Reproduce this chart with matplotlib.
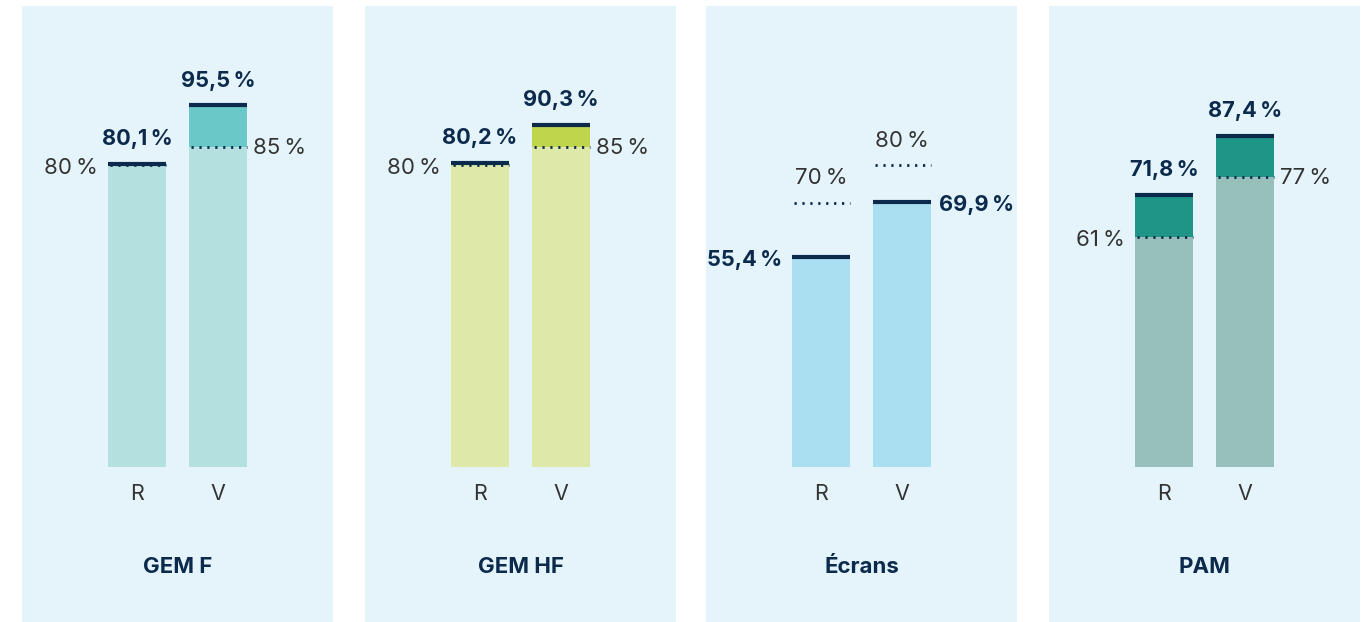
import matplotlib
matplotlib.use("Agg")
import matplotlib.pyplot as plt

# ---- data ----
categories = ["GEM F", "GEM HF", "Écrans", "PAM"]
bar_labels = ["R", "V"]
actual_R = [80.1, 80.2, 55.4, 71.8]
actual_V = [95.5, 90.3, 69.9, 87.4]
target_R = [80, 80, 70, 61]
target_V = [85, 85, 80, 77]

light_colors = ["#b5e0e0", "#dee9a9", "#aadff1", "#97c0bc"]
dark_colors = ["#6bc8c8", "#bfd54b", "#aadff1", "#1e9586"]

NAVY = "#0b2a4c"
GREY = "#333333"
PANEL_BG = "#e5f4fa"
FONT = ["Inter", "DejaVu Sans"]
SP = "\u2009"

W, H = 1367, 622
fig = plt.figure(figsize=(W / 100, H / 100), dpi=100, facecolor="white")

panel_lefts = [22, 365, 706, 1049]
panel_w = 311
panel_top = 6
scale = 3.77            # px per percent
base_px = 467           # baseline pixel row

ax_h_px = H - panel_top
ylo = -(H - base_px) / scale
yhi = (base_px - panel_top) / scale

bar_w = 58 / 81
xlo = -115 / 81
xhi = (panel_w - 115) / 81

BOLD_FS = 15.7
REG_FS = 16


def fmt_actual(v):
    return f"{v:.1f}".replace(".", ",") + SP + "%"


def fmt_target(v):
    return f"{v:g}" + SP + "%"


for i, cat in enumerate(categories):
    ax = fig.add_axes([panel_lefts[i] / W, 0, panel_w / W, ax_h_px / H])
    ax.set_facecolor(PANEL_BG)
    for s in ax.spines.values():
        s.set_visible(False)
    ax.set_xticks([])
    ax.set_yticks([])
    ax.set_xlim(xlo, xhi)
    ax.set_ylim(ylo, yhi)

    actuals = [actual_R[i], actual_V[i]]
    targets = [target_R[i], target_V[i]]
    for j in range(2):
        a, t = actuals[j], targets[j]
        x = j
        ax.bar(x, min(a, t), width=bar_w, color=light_colors[i], zorder=2)
        if a > t:
            ax.bar(x, a - t, bottom=t, width=bar_w, color=dark_colors[i], zorder=2)
        # target dotted line
        ax.hlines(t, x - bar_w / 2 + 0.03, x + bar_w / 2, colors=NAVY, linewidth=2.0,
                  linestyles=(0, (0.8, 2.05)), zorder=3)
        # actual navy line
        ax.hlines(a + 0.4, x - bar_w / 2, x + bar_w / 2, colors=NAVY, linewidth=3,
                  zorder=4)

        if a >= t:
            ax.text(x, a + 5.4, fmt_actual(a), ha="center", va="baseline",
                    fontsize=BOLD_FS, fontweight="bold", color=NAVY, family=FONT)
            if j == 0:
                ax.text(x - bar_w / 2 - 10 / 81, t - 0.8, fmt_target(t), ha="right",
                        va="center", fontsize=REG_FS, color=GREY, family=FONT)
            else:
                ax.text(x + bar_w / 2 + 6 / 81, t - 0.4, fmt_target(t), ha="left",
                        va="center", fontsize=REG_FS, color=GREY, family=FONT)
        else:
            ax.text(x, t + 5.0, fmt_target(t), ha="center", va="baseline",
                    fontsize=REG_FS, color=GREY, family=FONT)
            if j == 0:
                ax.text(x - bar_w / 2 - 10 / 81, a - 0.6, fmt_actual(a), ha="right",
                        va="center", fontsize=BOLD_FS, fontweight="bold", color=NAVY,
                        family=FONT)
            else:
                ax.text(x + bar_w / 2 + 8 / 81, a - 0.4, fmt_actual(a), ha="left",
                        va="center", fontsize=BOLD_FS, fontweight="bold", color=NAVY,
                        family=FONT)

        ax.text(x, -(494 - base_px) / scale, bar_labels[j], ha="center", va="center",
                fontsize=15.5, color=GREY, family=FONT)

    ax.text(0.5, -(567 - base_px) / scale, cat, ha="center", va="center",
            fontsize=16, fontweight="bold", color=NAVY, family=FONT)

fig.savefig("out.png", dpi=100, facecolor="white")
